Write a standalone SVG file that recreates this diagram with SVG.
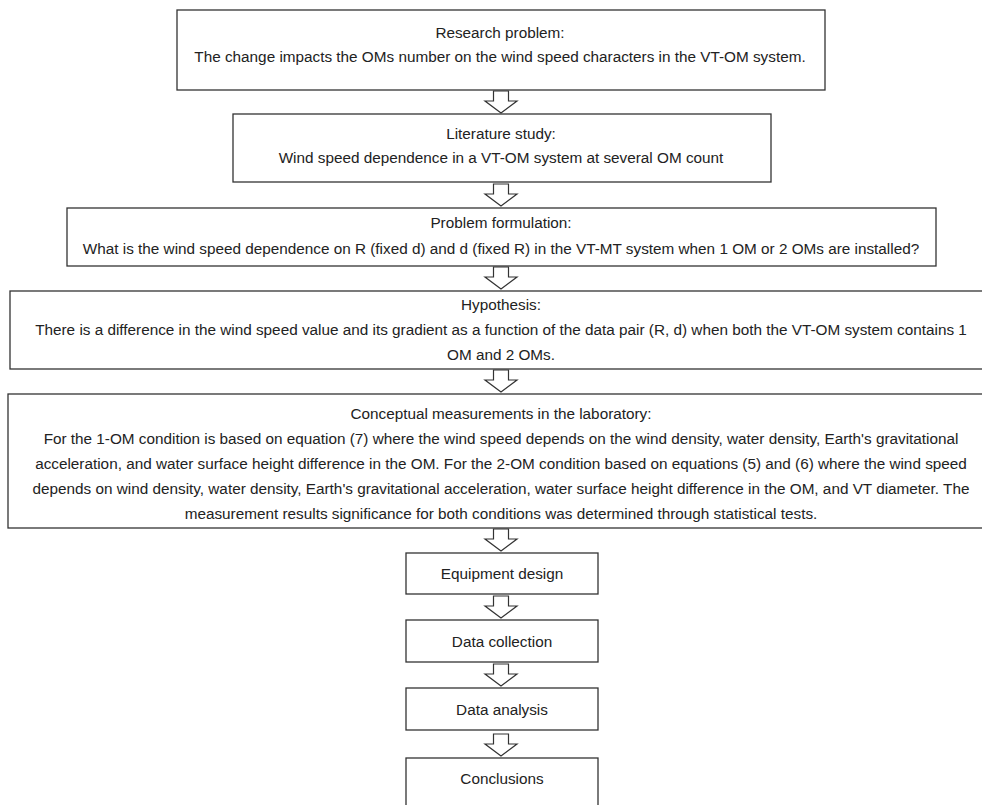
<svg xmlns="http://www.w3.org/2000/svg" xmlns:xlink="http://www.w3.org/1999/xlink" width="982" height="805" viewBox="0 0 982 805">
  <style>
    .box { fill: #ffffff; stroke: #333333; stroke-width: 1.3; }
    .t { font-family: "Liberation Sans", Arial, sans-serif; font-size: 15.3px; fill: #222222; text-anchor: middle; }
    .arr { fill: #ffffff; stroke: #333333; stroke-width: 1.2; stroke-linejoin: miter; }
  </style>
  <defs>
    <path id="blockArrow" class="arr" d="M -7.5 0 L 7.5 0 L 7.5 10 L 16 10 L 0 22 L -16 10 L -7.5 10 Z"/>
  </defs>
  <rect width="982" height="805" fill="#ffffff"/>

  <g id="connectors">
    <use xlink:href="#blockArrow" href="#blockArrow" x="501" y="91"/>
    <use xlink:href="#blockArrow" href="#blockArrow" x="501" y="184"/>
    <use xlink:href="#blockArrow" href="#blockArrow" x="501" y="267"/>
    <use xlink:href="#blockArrow" href="#blockArrow" x="501" y="370"/>
    <use xlink:href="#blockArrow" href="#blockArrow" x="501" y="529"/>
    <use xlink:href="#blockArrow" href="#blockArrow" x="501" y="596"/>
    <use xlink:href="#blockArrow" href="#blockArrow" x="501" y="664"/>
    <use xlink:href="#blockArrow" href="#blockArrow" x="501" y="734"/>
  </g>

  <g id="research-problem">
    <rect class="box" x="177" y="10" width="648" height="80"/>
    <text class="t" x="500" y="38">Research problem:</text>
    <text class="t" x="500" y="62">The change impacts the OMs number on the wind speed characters in the VT-OM system.</text>
  </g>

  <g id="literature-study">
    <rect class="box" x="233" y="114" width="538" height="68"/>
    <text class="t" x="501" y="139">Literature study:</text>
    <text class="t" x="501" y="163">Wind speed dependence in a VT-OM system at several OM count</text>
  </g>

  <g id="problem-formulation">
    <rect class="box" x="67" y="208" width="869" height="58"/>
    <text class="t" x="501" y="228">Problem formulation:</text>
    <text class="t" x="501" y="254">What is the wind speed dependence on R (fixed d) and d (fixed R) in the VT-MT system when 1 OM or 2 OMs are installed?</text>
  </g>

  <g id="hypothesis">
    <rect class="box" x="10" y="291" width="985" height="78"/>
    <text class="t" x="501" y="310">Hypothesis:</text>
    <text class="t" x="501" y="335">There is a difference in the wind speed value and its gradient as a function of the data pair (R, d) when both the VT-OM system contains 1</text>
    <text class="t" x="501" y="360">OM and 2 OMs.</text>
  </g>

  <g id="conceptual-measurements">
    <rect class="box" x="8" y="394" width="988" height="134"/>
    <text class="t" x="501" y="419">Conceptual measurements in the laboratory:</text>
    <text class="t" x="501" y="444">For the 1-OM condition is based on equation (7) where the wind speed depends on the wind density, water density, Earth's gravitational</text>
    <text class="t" x="501" y="469">acceleration, and water surface height difference in the OM. For the 2-OM condition based on equations (5) and (6) where the wind speed</text>
    <text class="t" x="501" y="494">depends on wind density, water density, Earth's gravitational acceleration, water surface height difference in the OM, and VT diameter. The</text>
    <text class="t" x="501" y="519">measurement results significance for both conditions was determined through statistical tests.</text>
  </g>

  <g id="equipment-design">
    <rect class="box" x="406" y="553" width="192" height="41"/>
    <text class="t" x="502" y="579">Equipment design</text>
  </g>

  <g id="data-collection">
    <rect class="box" x="406" y="620" width="192" height="42"/>
    <text class="t" x="502" y="647">Data collection</text>
  </g>

  <g id="data-analysis">
    <rect class="box" x="406" y="688" width="192" height="42"/>
    <text class="t" x="502" y="715">Data analysis</text>
  </g>

  <g id="conclusions">
    <rect class="box" x="406" y="758" width="192" height="50"/>
    <text class="t" x="502" y="784">Conclusions</text>
  </g>
</svg>
